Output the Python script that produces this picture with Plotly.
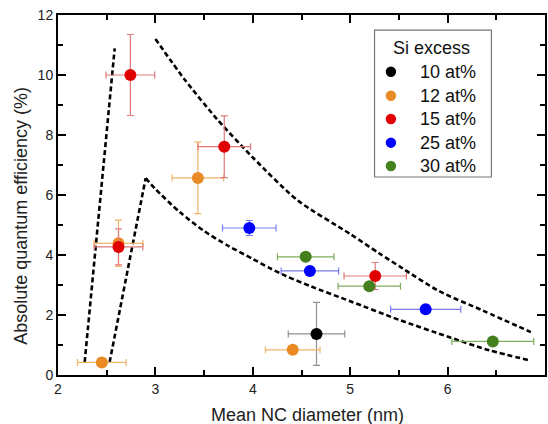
import plotly.graph_objects as go

# ---- data ----
series_names = ["10 at%", "12 at%", "15 at%", "25 at%", "30 at%"]
legend_title = "Si excess"

x_10 = [4.654]
y_10 = [1.37]
xerr_10 = [0.29]
yerr_10 = [1.05]

x_12 = [2.45, 2.621, 3.436, 4.41]
y_12 = [0.42, 4.39, 6.57, 0.84]
xerr_12 = [0.25, 0.25, 0.265, 0.28]
yerr_12 = [0.0, 0.77, 1.19, 0.0]

x_15 = [2.743, 3.707, 2.621, 5.257]
y_15 = [10.0, 7.61, 4.27, 3.30]
xerr_15 = [0.25, 0.27, 0.25, 0.32]
yerr_15 = [1.35, 1.03, 0.60, 0.45]

x_25 = [3.964, 4.586, 5.775]
y_25 = [4.90, 3.47, 2.19]
xerr_25 = [0.275, 0.295, 0.36]
yerr_25 = [0.25, 0.0, 0.0]

x_30 = [4.543, 5.196, 6.464]
y_30 = [3.94, 2.96, 1.12]
xerr_30 = [0.29, 0.32, 0.42]
yerr_30 = [0.0, 0.0, 0.0]

# dashed guide lines
left_x = [2.274, 2.582]
left_y = [0.43, 10.89]

inner_x = [2.53, 2.90]
inner_y = [0.43, 6.56]

lower_x = [2.90, 3.0, 3.25, 3.5, 3.75, 4.0, 4.17, 4.34, 4.6, 5.0, 5.5, 6.02, 6.43, 6.855]
lower_y = [6.56, 6.2, 5.43, 4.8, 4.3, 3.87, 3.57, 3.30, 2.95, 2.46, 1.84, 1.26, 0.82, 0.48]

upper_x = [3.0, 3.3, 3.64, 4.0, 4.46, 5.0, 5.3, 5.54, 5.91, 6.36, 6.855]
upper_y = [11.2, 9.85, 8.5, 7.25, 5.82, 4.70, 4.05, 3.55, 2.8, 2.15, 1.43]

marker_colors = ["#000000", "#ea8a25", "#e00000", "#0000ff", "#45801f"]
err_colors = ["#909090", "#f0b46a", "#e07a7a", "#7a7af0", "#7fae5f"]

FONT = "Liberation Sans, Arial, sans-serif"

fig = go.Figure()

for lx, ly, shp in [(left_x, left_y, "linear"), (inner_x, inner_y, "linear"),
                    (lower_x, lower_y, "spline"), (upper_x, upper_y, "spline")]:
    fig.add_trace(go.Scatter(
        x=lx, y=ly, mode="lines", showlegend=False, hoverinfo="skip",
        line=dict(color="black", width=2.6, dash="5px,3px", shape=shp, smoothing=0.7),
    ))

all_series = [
    (x_10, y_10, xerr_10, yerr_10),
    (x_12, y_12, xerr_12, yerr_12),
    (x_15, y_15, xerr_15, yerr_15),
    (x_25, y_25, xerr_25, yerr_25),
    (x_30, y_30, xerr_30, yerr_30),
]

for name, (xs, ys, xe, ye), mc, ec in zip(series_names, all_series, marker_colors, err_colors):
    fig.add_trace(go.Scatter(
        x=xs, y=ys, mode="markers", name=name, showlegend=False,
        marker=dict(color=mc, size=12, line=dict(width=0)),
        error_x=dict(type="data", array=xe, visible=True, color=ec, thickness=1.2, width=3.5),
        error_y=dict(type="data", array=ye, visible=True, color=ec, thickness=1.2, width=3.5),
    ))

axis_common = dict(
    showline=True, linecolor="black", linewidth=2, mirror="ticks",
    ticks="inside", ticklen=8, tickwidth=2, tickcolor="black",
    showgrid=False, zeroline=False,
    tickfont=dict(family=FONT, size=14, color="#222"),
)

fig.update_xaxes(range=[2, 7], dtick=1, tick0=2,
                 minor=dict(dtick=0.5, ticks="inside", ticklen=5, tickwidth=2, tickcolor="black"),
                 **axis_common)
fig.update_yaxes(range=[0, 12], dtick=2, tick0=0,
                 minor=dict(dtick=1, ticks="inside", ticklen=5, tickwidth=2, tickcolor="black"),
                 **axis_common)

fig.add_annotation(text="Mean NC diameter (nm)", xref="paper", yref="paper",
                   x=0.513, y=-0.11, xanchor="center", yanchor="middle", showarrow=False,
                   font=dict(family=FONT, size=18, color="#222"))
fig.add_annotation(text="Absolute quantum efficiency (%)", xref="paper", yref="paper",
                   x=-0.076, y=0.442, xanchor="center", yanchor="middle", showarrow=False,
                   textangle=-90, font=dict(family=FONT, size=18, color="#222"))

# ---- hand-built legend box ----
fig.add_shape(type="rect", xref="paper", yref="paper", x0=0.650, x1=0.890, y0=0.550, y1=0.958,
              line=dict(color="#777", width=1.2), fillcolor="white", layer="above")
fig.add_annotation(text=legend_title, xref="paper", yref="paper", x=0.766, y=0.907,
                   xanchor="center", yanchor="middle", showarrow=False,
                   font=dict(family=FONT, size=18, color="#111"))
row_y = [0.8425, 0.7758, 0.7111, 0.6453, 0.5806]
for name, mc, ry in zip(series_names, marker_colors, row_y):
    fig.add_shape(type="circle", xref="paper", yref="paper",
                  xsizemode="pixel", ysizemode="pixel", xanchor=0.6836, yanchor=ry,
                  x0=-5.2, x1=5.2, y0=-5.2, y1=5.2,
                  fillcolor=mc, line=dict(width=0), layer="above")
    fig.add_annotation(text=name, xref="paper", yref="paper", x=0.740, y=ry,
                       xanchor="left", yanchor="middle", showarrow=False,
                       font=dict(family=FONT, size=18, color="#111"))

fig.update_layout(
    width=548, height=424,
    margin=dict(l=58, r=1, t=15, b=49),
    paper_bgcolor="white", plot_bgcolor="white",
    font=dict(family=FONT, color="#222"),
    showlegend=False,
)

fig.write_html("out.html", config={"displayModeBar": False},
               post_script="document.body.style.margin='0';")
